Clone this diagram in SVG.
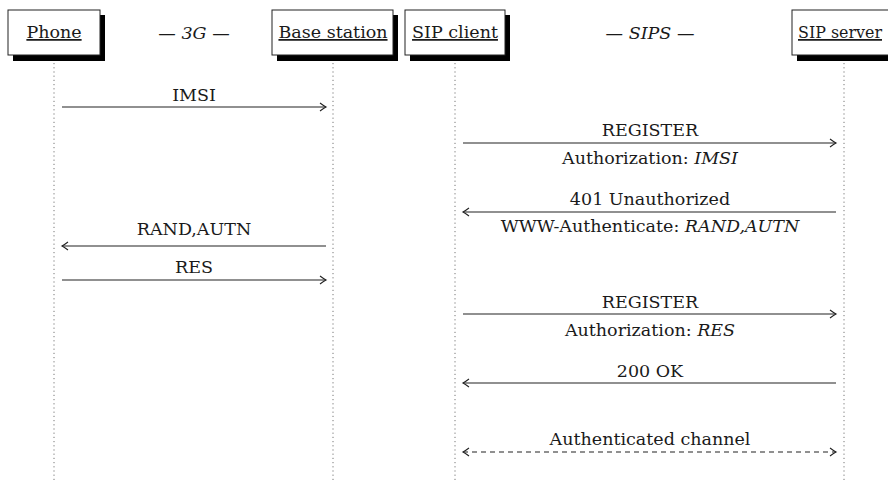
<svg xmlns="http://www.w3.org/2000/svg" width="888" height="480" viewBox="0 0 888 480">
<style>
text{font-family:"DejaVu Serif","Liberation Serif",serif;font-size:17.5px;fill:#1a1a1a;text-anchor:middle}
.hd{text-decoration:underline}
.it{font-style:italic}
.box{fill:#fff;stroke:#222;stroke-width:1}
.sh{fill:#000}
.life{stroke:#777;stroke-width:1;stroke-dasharray:1.2 3}
.msg{stroke:#222;stroke-width:1.1;fill:none}
.dash{stroke-dasharray:5 4}
</style>
<defs>
<marker id="ah" markerUnits="userSpaceOnUse" markerWidth="12" markerHeight="12" refX="0" refY="0" viewBox="-8 -6 10 12" orient="auto-start-reverse">
<path d="M-6,-4 Q-2,-1 0,0 Q-2,1 -6,4" fill="none" stroke="#222" stroke-width="1.1"/>
</marker>
</defs>
<g id="lifelines">
<line class="life" x1="54" y1="63" x2="54" y2="480"/>
<line class="life" x1="333" y1="63" x2="333" y2="480"/>
<line class="life" x1="455" y1="63" x2="455" y2="480"/>
<line class="life" x1="844" y1="63" x2="844" y2="480"/>
</g>
<g id="phone">
<rect class="sh" x="13" y="15" width="92" height="46"/>
<rect class="box" x="8" y="10" width="92" height="45"/>
<text class="hd" x="54" y="38">Phone</text>
</g>
<g id="base-station">
<rect class="sh" x="277" y="15" width="121" height="46"/>
<rect class="box" x="272" y="10" width="121" height="45"/>
<text class="hd" x="333" y="38">Base station</text>
</g>
<g id="sip-client">
<rect class="sh" x="410" y="15" width="100" height="46"/>
<rect class="box" x="405" y="10" width="100" height="45"/>
<text class="hd" x="455" y="38">SIP client</text>
</g>
<g id="sip-server">
<rect class="sh" x="797" y="15" width="110" height="46"/>
<rect class="box" x="792" y="10" width="110" height="45"/>
<text class="hd" x="798" y="38" style="text-anchor:start" textLength="84" lengthAdjust="spacingAndGlyphs">SIP server</text>
</g>
<g id="labels">
<text x="194" y="39">— <tspan class="it">3G</tspan> —</text>
<text x="650" y="39">— <tspan class="it">SIPS</tspan> —</text>
</g>
<g id="connectors">
<line class="msg" x1="62" y1="107" x2="326" y2="107" marker-end="url(#ah)"/>
<text x="194" y="101">IMSI</text>
<line class="msg" x1="463" y1="143" x2="836" y2="143" marker-end="url(#ah)"/>
<text x="650" y="136">REGISTER</text>
<text x="650" y="164">Authorization: <tspan class="it">IMSI</tspan></text>
<line class="msg" x1="836" y1="212" x2="463" y2="212" marker-end="url(#ah)"/>
<text x="650" y="205">401 Unauthorized</text>
<text x="650" y="232">WWW-Authenticate: <tspan class="it">RAND,AUTN</tspan></text>
<line class="msg" x1="326" y1="246" x2="62" y2="246" marker-end="url(#ah)"/>
<text x="194" y="235">RAND,AUTN</text>
<line class="msg" x1="62" y1="280" x2="326" y2="280" marker-end="url(#ah)"/>
<text x="194" y="273">RES</text>
<line class="msg" x1="463" y1="314" x2="836" y2="314" marker-end="url(#ah)"/>
<text x="650" y="308">REGISTER</text>
<text x="650" y="336">Authorization: <tspan class="it">RES</tspan></text>
<line class="msg" x1="836" y1="383" x2="463" y2="383" marker-end="url(#ah)"/>
<text x="650" y="377">200 OK</text>
<line class="msg dash" x1="463" y1="452" x2="836" y2="452" marker-start="url(#ah)" marker-end="url(#ah)"/>
<text x="650" y="445">Authenticated channel</text>
</g>
</svg>
